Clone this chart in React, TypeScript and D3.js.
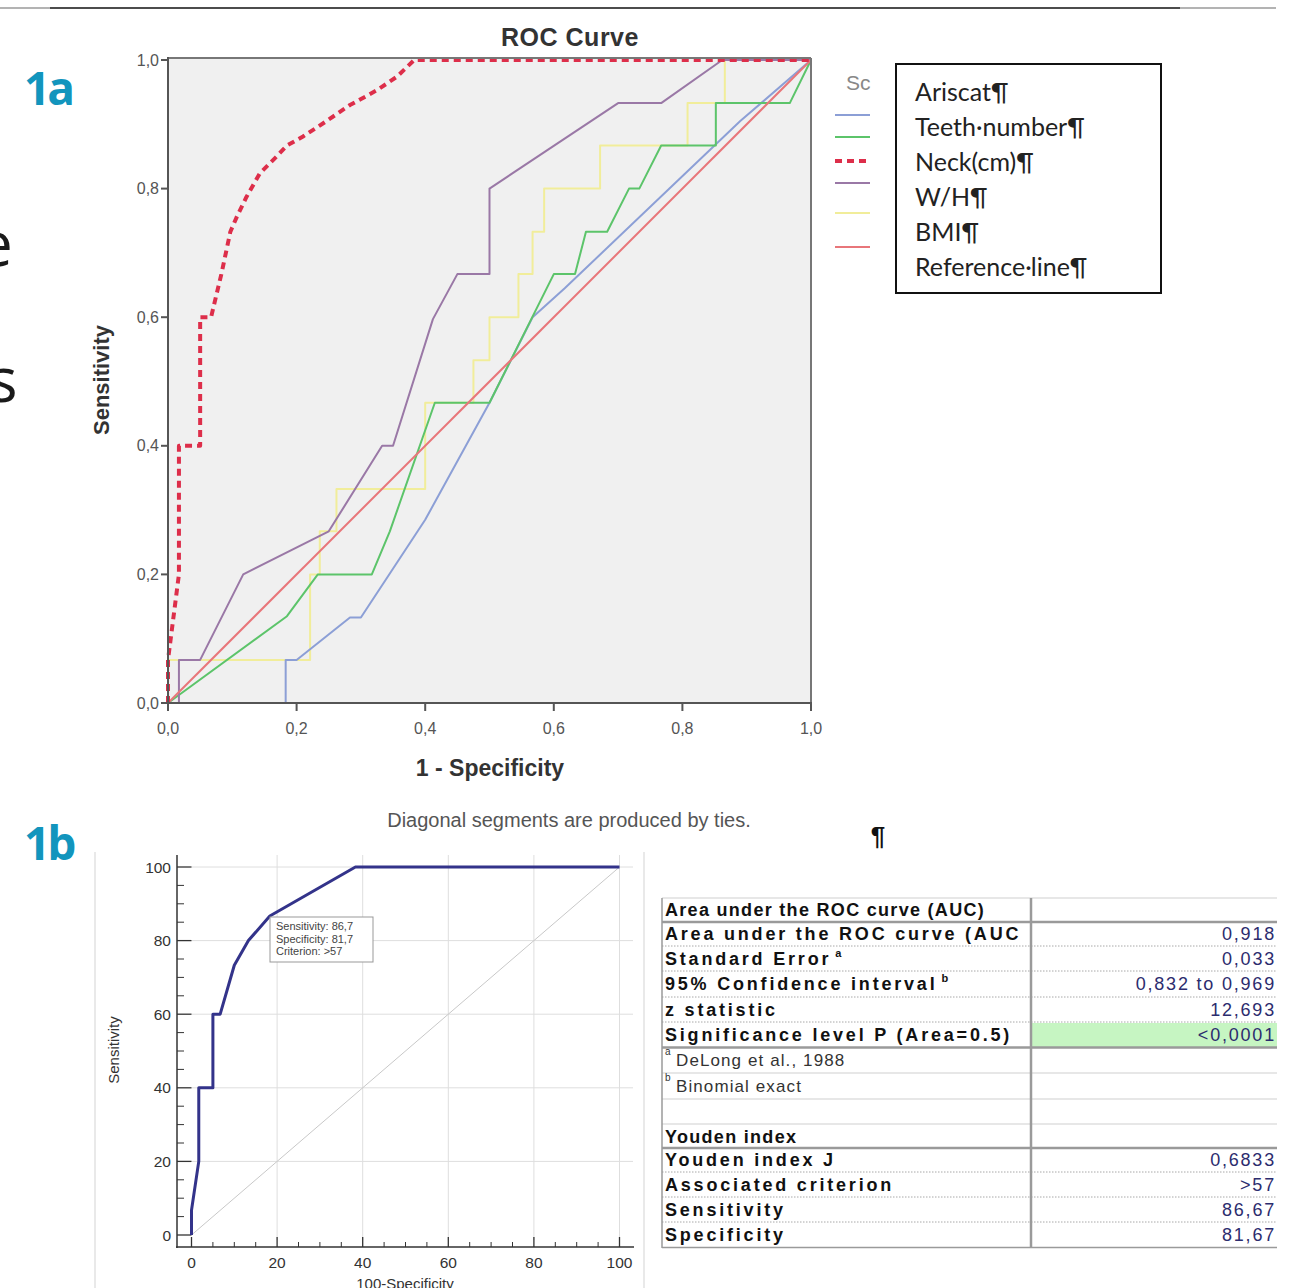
import React from "react";
import * as d3 from "d3";

type Pt = [number, number];

// ---------- Figure 1a data ----------
const topTicks = [0, 0.2, 0.4, 0.6, 0.8, 1.0];
const topTickLabels = ["0,0", "0,2", "0,4", "0,6", "0,8", "1,0"];
const legendTexts = ["Ariscat¶", "Teeth·number¶", "Neck(cm)¶", "W/H¶", "BMI¶", "Reference·line¶"];

const ariscat: Pt[] = [[0, 0], [0.183, 0], [0.183, 0.067], [0.2, 0.067], [0.283, 0.133], [0.3, 0.133], [0.4, 0.285], [0.5, 0.467], [0.567, 0.6], [0.617, 0.645], [0.89, 0.905], [1, 1]];
const teeth: Pt[] = [[0, 0], [0.185, 0.135], [0.233, 0.2], [0.317, 0.2], [0.345, 0.267], [0.415, 0.467], [0.5, 0.467], [0.6, 0.667], [0.633, 0.667], [0.65, 0.733], [0.683, 0.733], [0.717, 0.8], [0.733, 0.8], [0.767, 0.867], [0.852, 0.867], [0.852, 0.933], [0.967, 0.933], [1, 1]];
const neck: Pt[] = [[0, 0], [0, 0.067], [0.017, 0.2], [0.017, 0.4], [0.05, 0.4], [0.05, 0.6], [0.067, 0.6], [0.083, 0.667], [0.097, 0.733], [0.107, 0.756], [0.122, 0.787], [0.143, 0.824], [0.169, 0.85], [0.185, 0.867], [0.21, 0.881], [0.242, 0.902], [0.283, 0.93], [0.325, 0.953], [0.356, 0.974], [0.383, 1], [1, 1]];
const wh: Pt[] = [[0, 0], [0.017, 0], [0.017, 0.067], [0.05, 0.067], [0.117, 0.2], [0.25, 0.267], [0.333, 0.4], [0.35, 0.4], [0.412, 0.597], [0.45, 0.667], [0.5, 0.667], [0.5, 0.8], [0.7, 0.933], [0.767, 0.933], [0.862, 1], [1, 1]];
const bmi: Pt[] = [[0, 0], [0, 0.067], [0.221, 0.067], [0.221, 0.2], [0.236, 0.2], [0.236, 0.267], [0.262, 0.267], [0.262, 0.333], [0.4, 0.333], [0.4, 0.467], [0.475, 0.467], [0.475, 0.533], [0.5, 0.533], [0.5, 0.6], [0.545, 0.6], [0.545, 0.667], [0.567, 0.667], [0.567, 0.733], [0.585, 0.733], [0.585, 0.8], [0.672, 0.8], [0.672, 0.867], [0.808, 0.867], [0.808, 0.933], [0.866, 0.933], [0.866, 1], [1, 1]];
const reference: Pt[] = [[0, 0], [1, 1]];

// ---------- Figure 1b data ----------
const bTicks = [0, 20, 40, 60, 80, 100];
const neckRoc: Pt[] = [[0, 0], [0, 6.7], [1.7, 20], [1.7, 40], [5, 40], [5, 60], [6.7, 60], [10, 73.3], [13.3, 80], [18.3, 86.7], [38.3, 100], [100, 100]];
const diag: Pt[] = [[0, 0], [100, 100]];
const annotation = ["Sensitivity: 86,7", "Specificity: 81,7", "Criterion: >57"];

// ---------- Table data ----------
const aucHeader = "Area under the ROC curve (AUC)";
const aucLabels = ["Area under the ROC curve (AUC", "Standard Error", "95% Confidence interval", "z statistic", "Significance level P (Area=0.5)"];
const aucSups = ["", "a", "b", "", ""];
const aucValues = ["0,918", "0,033", "0,832 to 0,969", "12,693", "<0,0001"];
const footMarks = ["a", "b"];
const footTexts = ["DeLong et al., 1988", "Binomial exact"];
const youdenHeader = "Youden index";
const youdenLabels = ["Youden index J", "Associated criterion", "Sensitivity", "Specificity"];
const youdenValues = ["0,6833", ">57", "86,67", "81,67"];

const SANS = "'Liberation Sans', Arial, sans-serif";

export default function App() {
  // ---- Figure 1a scales ----
  const xA = d3.scaleLinear().domain([0, 1]).range([168, 811]);
  const yA = d3.scaleLinear().domain([0, 1]).range([703, 60]);
  const lineA = d3.line<Pt>().x((d) => xA(d[0])).y((d) => yA(d[1]));

  const seriesStyles = [
    { data: bmi, color: "#f1ed9a", width: 2, dash: undefined as string | undefined },
    { data: ariscat, color: "#8c9fd6", width: 2, dash: undefined },
    { data: teeth, color: "#5cc46a", width: 2, dash: undefined },
    { data: wh, color: "#9a78a6", width: 2, dash: undefined },
    { data: reference, color: "#e8767a", width: 2, dash: undefined },
    { data: neck, color: "#dd2e4a", width: 4, dash: "7,5" },
  ];
  const legendColors = ["#8c9fd6", "#5cc46a", "#dd2e4a", "#9a78a6", "#f1ed9a", "#e8767a"];
  const legendSwatchY = [115, 137, 161, 183, 213, 247];
  const legendTextY = [91, 126, 161, 196, 231, 266];

  // ---- Figure 1b scales ----
  const xB = d3.scaleLinear().domain([0, 100]).range([191.5, 619.5]);
  const yB = d3.scaleLinear().domain([0, 100]).range([1235, 867]);
  const lineB = d3.line<Pt>().x((d) => xB(d[0])).y((d) => yB(d[1]));
  const minorB = d3.range(0, 101, 5).filter((v) => v % 20 !== 0);

  const aucY = aucLabels.map((_, i) => 934 + i * 25.2);
  const youY = youdenLabels.map((_, i) => 1160 + i * 25);
  const dotted = [946, 971, 997, 1022, 1172, 1197, 1222];

  return (
    <svg
      width={1292}
      height={1288}
      style={{ position: "absolute", left: 0, top: 0, display: "block", background: "#fff" }}
      fontFamily={SANS}
    >
      <defs>
        <clipPath id="leftClip">
          <rect x={0} y={0} width={30} height={1288} />
        </clipPath>
      </defs>

      {/* page header rule */}
      <line x1={0} x2={1276} y1={8} y2={8} stroke="#9a9a9a" strokeWidth={1.5} />
      <line x1={50} x2={1180} y1={8} y2={8} stroke="#2a2a2a" strokeWidth={1.5} />

      {/* cropped body text at left edge */}
      <g clipPath="url(#leftClip)" fill="#1a1a1a" fontFamily="'Open Sans', sans-serif" fontSize={62}>
        <text x={-22} y={266}>e</text>
        <text x={-12} y={402}>s</text>
      </g>

      {/* figure labels */}
      <text x={24} y={105} fill="#1295bd" fontFamily="'Open Sans', sans-serif" fontWeight={700} fontSize={46} letterSpacing={-3}>1a</text>
      <text x={24} y={860} fill="#1295bd" fontFamily="'Open Sans', sans-serif" fontWeight={700} fontSize={46} letterSpacing={-3}>1b</text>

      {/* ================= Figure 1a ================= */}
      <text x={570} y={46} textAnchor="middle" fontWeight={700} fontSize={25} fill="#333" letterSpacing={0.5}>ROC Curve</text>
      <rect x={xA(0)} y={yA(1) - 2} width={xA(1) - xA(0)} height={yA(0) - yA(1) + 2} fill="#f0f0f0" />

      {seriesStyles.map((s, i) => (
        <path key={i} d={lineA(s.data) || ""} fill="none" stroke={s.color} strokeWidth={s.width} strokeDasharray={s.dash} strokeLinejoin="round" />
      ))}

      {/* frame */}
      <line x1={xA(0)} x2={xA(1)} y1={yA(1) - 2} y2={yA(1) - 2} stroke="#777" strokeWidth={2} />
      <line x1={xA(1)} x2={xA(1)} y1={yA(1) - 2} y2={yA(0)} stroke="#777" strokeWidth={2} />
      <line x1={xA(0)} x2={xA(0)} y1={yA(1) - 3} y2={yA(0) + 1} stroke="#555" strokeWidth={2} />
      <line x1={xA(0) - 1} x2={xA(1) + 1} y1={yA(0)} y2={yA(0)} stroke="#555" strokeWidth={2} />

      {topTicks.map((t, i) => (
        <g key={"yt" + i}>
          <line x1={xA(0) - 7} x2={xA(0)} y1={yA(t)} y2={yA(t)} stroke="#555" strokeWidth={2} />
          <text x={xA(0) - 9} y={yA(t)} textAnchor="end" dominantBaseline="central" fontSize={16} fill="#555">{topTickLabels[i]}</text>
        </g>
      ))}
      {topTicks.map((t, i) => (
        <g key={"xt" + i}>
          <line x1={xA(t)} x2={xA(t)} y1={yA(0)} y2={yA(0) + 8} stroke="#555" strokeWidth={2} />
          <text x={xA(t)} y={yA(0) + 25} textAnchor="middle" dominantBaseline="central" fontSize={16} fill="#555">{topTickLabels[i]}</text>
        </g>
      ))}

      <text transform="translate(101,380) rotate(-90)" textAnchor="middle" dominantBaseline="central" fontWeight={700} fontSize={22} fill="#333">Sensitivity</text>
      <text x={490} y={768} textAnchor="middle" dominantBaseline="central" fontWeight={700} fontSize={23} fill="#333">1 - Specificity</text>
      <text x={569} y={820} textAnchor="middle" dominantBaseline="central" fontSize={20} fill="#555">Diagonal segments are produced by ties.</text>
      <text x={878} y={845} textAnchor="middle" fontWeight={700} fontSize={26} fill="#111">¶</text>

      {/* legend */}
      <text x={846} y={82} dominantBaseline="central" fontSize={21} fill="#888">Sc</text>
      {legendColors.map((c, i) => (
        <line key={"ls" + i} x1={835} x2={870} y1={legendSwatchY[i]} y2={legendSwatchY[i]} stroke={c} strokeWidth={i === 2 ? 4 : 2} strokeDasharray={i === 2 ? "7,5" : undefined} />
      ))}
      <rect x={896} y={64} width={265} height={229} fill="#fff" stroke="#111" strokeWidth={2} />
      {legendTexts.map((t, i) => (
        <text key={"lt" + i} x={915} y={legendTextY[i]} dominantBaseline="central" fontFamily="Lato, 'Open Sans', sans-serif" fontSize={25} fill="#222">{t}</text>
      ))}

      {/* ================= Figure 1b ================= */}
      <line x1={95} x2={95} y1={852} y2={1288} stroke="#e2e2e2" strokeWidth={1.5} />
      <line x1={644} x2={644} y1={852} y2={1288} stroke="#e2e2e2" strokeWidth={1.5} />

      {/* grid */}
      {bTicks.filter((t) => t > 0).map((t) => (
        <g key={"g" + t}>
          <line x1={xB(t)} x2={xB(t)} y1={855} y2={1240} stroke="#dedede" strokeWidth={1} />
          <line x1={xB(0)} x2={633} y1={yB(t)} y2={yB(t)} stroke="#dedede" strokeWidth={1} />
        </g>
      ))}

      {/* axes */}
      <line x1={177} x2={177} y1={855} y2={1248} stroke="#333" strokeWidth={1.5} />
      <line x1={176} x2={634} y1={1247} y2={1247} stroke="#333" strokeWidth={1.5} />
      {bTicks.map((t) => (
        <g key={"bt" + t}>
          <line x1={177} x2={xB(0)} y1={yB(t)} y2={yB(t)} stroke="#333" strokeWidth={1.3} />
          <text x={171} y={yB(t)} textAnchor="end" dominantBaseline="central" fontSize={15.5} fill="#333">{t}</text>
          <line x1={xB(t)} x2={xB(t)} y1={1247} y2={1237} stroke="#333" strokeWidth={1.3} />
          <text x={xB(t)} y={1262} textAnchor="middle" dominantBaseline="central" fontSize={15.5} fill="#333">{t}</text>
        </g>
      ))}
      {minorB.map((t) => (
        <g key={"bm" + t}>
          <line x1={177} x2={184} y1={yB(t)} y2={yB(t)} stroke="#333" strokeWidth={1} />
          <line x1={xB(t)} x2={xB(t)} y1={1247} y2={1242} stroke="#333" strokeWidth={1} />
        </g>
      ))}

      <path d={lineB(diag) || ""} fill="none" stroke="#c8c8c8" strokeWidth={1} />
      <path d={lineB(neckRoc) || ""} fill="none" stroke="#33338a" strokeWidth={3} strokeLinejoin="round" />

      <rect x={270} y={917} width={103} height={45} fill="#fff" stroke="#999" strokeWidth={1} />
      {annotation.map((t, i) => (
        <text key={"an" + i} x={276} y={930 + i * 12.5} fontSize={11} fill="#444">{t}</text>
      ))}

      <text transform="translate(113,1050) rotate(-90)" textAnchor="middle" dominantBaseline="central" fontSize={15} fill="#333">Sensitivity</text>
      <text x={405} y={1283} textAnchor="middle" dominantBaseline="central" fontSize={15} fill="#333">100-Specificity</text>

      {/* ================= Table ================= */}
      <rect x={1032} y={1023} width={245} height={24} fill="#c6f5c2" />
      <line x1={662} x2={1277} y1={898} y2={898} stroke="#cfcfcf" strokeWidth={1} />
      <line x1={662} x2={1277} y1={922} y2={922} stroke="#9a9a9a" strokeWidth={2.5} />
      <line x1={662} x2={1277} y1={1047.5} y2={1047.5} stroke="#9a9a9a" strokeWidth={2.5} />
      <line x1={662} x2={1277} y1={1073} y2={1073} stroke="#cfcfcf" strokeWidth={1} />
      <line x1={662} x2={1277} y1={1099} y2={1099} stroke="#cfcfcf" strokeWidth={1} />
      <line x1={662} x2={1277} y1={1124} y2={1124} stroke="#cfcfcf" strokeWidth={1} />
      <line x1={662} x2={1277} y1={1148} y2={1148} stroke="#9a9a9a" strokeWidth={2.5} />
      <line x1={662} x2={1277} y1={1247.5} y2={1247.5} stroke="#9a9a9a" strokeWidth={1.5} />
      {dotted.map((y) => (
        <line key={"d" + y} x1={662} x2={1277} y1={y} y2={y} stroke="#a8a8a8" strokeWidth={1} strokeDasharray="1.5,1.5" />
      ))}
      <line x1={662} x2={662} y1={898} y2={1248} stroke="#9a9a9a" strokeWidth={1.5} />
      <line x1={1031} x2={1031} y1={898} y2={1248} stroke="#9a9a9a" strokeWidth={2.5} />

      <text x={665} y={910} dominantBaseline="central" fontWeight={700} fontSize={18} letterSpacing={1.3} fill="#111">{aucHeader}</text>
      {aucLabels.map((t, i) => (
        <text key={"al" + i} x={665} y={aucY[i]} dominantBaseline="central" fontWeight={700} fontSize={18} letterSpacing={2.8} fill="#111">
          {t}
          {aucSups[i] ? <tspan dx={4} dy={-6} fontSize={11} fontWeight={700}>{aucSups[i]}</tspan> : null}
        </text>
      ))}
      {aucValues.map((t, i) => (
        <text key={"av" + i} x={1276} y={aucY[i]} textAnchor="end" dominantBaseline="central" fontSize={18} letterSpacing={1.8} fill="#2c2c6e">{t}</text>
      ))}
      {footTexts.map((t, i) => (
        <g key={"ft" + i}>
          <text x={665} y={1055 + i * 26} fontSize={10} fill="#333">{footMarks[i]}</text>
          <text x={676} y={1060 + i * 26} dominantBaseline="central" fontSize={17} letterSpacing={1.1} fill="#333">{t}</text>
        </g>
      ))}
      <text x={665} y={1137} dominantBaseline="central" fontWeight={700} fontSize={18} letterSpacing={1.3} fill="#111">{youdenHeader}</text>
      {youdenLabels.map((t, i) => (
        <text key={"yl" + i} x={665} y={youY[i]} dominantBaseline="central" fontWeight={700} fontSize={18} letterSpacing={2.8} fill="#111">{t}</text>
      ))}
      {youdenValues.map((t, i) => (
        <text key={"yv" + i} x={1276} y={youY[i]} textAnchor="end" dominantBaseline="central" fontSize={18} letterSpacing={1.8} fill="#2c2c6e">{t}</text>
      ))}
    </svg>
  );
}
